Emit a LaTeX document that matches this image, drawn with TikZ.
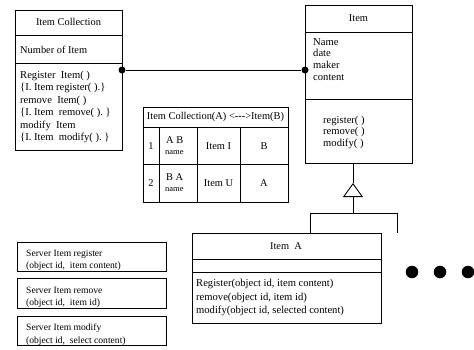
\documentclass[tikz,border=0pt]{standalone}
\usepackage{fontspec}
\setmainfont{Liberation Serif}
\usetikzlibrary{arrows.meta}

\begin{document}
\begin{tikzpicture}[x=1pt, y=-1pt,
  box/.style={draw, line width=0.9pt, inner sep=0pt, anchor=north west},
  rule/.style={line width=0.9pt},
  lbl/.style={inner sep=0pt, font=\fontsize{10.4}{12}\selectfont},
  lines/.style={lbl, anchor=north west, align=left, font=\fontsize{10.6}{12.4}\selectfont},
  small/.style={inner sep=0pt, font=\fontsize{8.5}{9}\selectfont},
  srvtext/.style={lines, font=\fontsize{9.6}{12.2}\selectfont},
  assoc/.style={line width=0.9pt},
  enddot/.style={circle, fill, inner sep=0pt, minimum size=7pt},
  bigdot/.style={circle, fill, inner sep=0pt, minimum size=12.5pt},
  gen/.style={line width=0.9pt, -{Triangle[open, length=14pt, width=20pt, line width=0.9pt]}}
]
\useasboundingbox (0,0) rectangle (474,349);
\fill[white] (0,0) rectangle (474,349);

% ---- class Item Collection ----
\node[box, minimum width=107pt, minimum height=140pt] (coll) at (15,10) {};
\draw[rule] (15,35) -- (122,35);
\draw[rule] (15,63) -- (122,63);
\node[lbl] (collname) at (68.5,22) {Item Collection};
\node[lbl, anchor=west] (collattr) at (20,50) {Number of Item};
\node[lines] (collops) at (20,71) {Register\ \ Item(\ )\\
\{I. Item register(\ ).\}\\
remove\ \ Item(\ )\\
\{I. Item\ \ remove(\ ).\ \}\\
modify\ \ Item\\
\{I. Item\ \ modify(\ ).\ \}};

% ---- class Item ----
\node[box, minimum width=107pt, minimum height=158pt] (item) at (305,5) {};
\draw[rule] (305,32) -- (412,32);
\draw[rule] (305,99) -- (412,99);
\node[lbl] (itemname) at (358.5,18) {Item};
\node[lines, font=\fontsize{10.6}{11.8}\selectfont] (itemattr) at (313,38) {Name\\ date\\ maker\\ content};
\node[lines, font=\fontsize{10.6}{11.3}\selectfont] (itemops) at (323,116) {register(\ )\\ remove(\ )\\ modify(\ )};

% ---- association between the two classes ----
\node[enddot] (ea) at (122,70) {};
\node[enddot] (eb) at (305,70) {};
\draw[assoc] (ea) -- (eb);

% ---- mapping table ----
\node[box, minimum width=145pt, minimum height=95pt] (tab) at (143,107) {};
\draw[rule] (143,127) -- (288,127);
\draw[rule] (143,164) -- (288,164);
\draw[rule] (159,127) -- (159,202);
\draw[rule] (197,127) -- (197,202);
\draw[rule] (240,127) -- (240,202);
\node[lbl] (tabhead) at (215.5,117) {Item Collection(A) <-{}-{}->Item(B)};
\node[lbl] (r1n) at (151,146) {1};
\node[lbl, anchor=west] (r1a) at (166,140) {A B};
\node[small, anchor=west] (r1b) at (165,153) {name};
\node[lbl] (r1c) at (218.5,146) {Item I};
\node[lbl] (r1d) at (264,146) {B};
\node[lbl] (r2n) at (151,183) {2};
\node[lbl, anchor=west] (r2a) at (166,177) {B A};
\node[small, anchor=west] (r2b) at (165,190) {name};
\node[lbl] (r2c) at (218.5,183) {Item U};
\node[lbl] (r2d) at (264,183) {A};

% ---- server operations ----
\node[box, minimum width=149pt, minimum height=29pt] (srv1) at (17,242) {};
\node[srvtext] (srv1t) at (26,250) {Server Item register\\ (object id,\ \ item content)};
\node[box, minimum width=149pt, minimum height=30pt] (srv2) at (17,278) {};
\node[srvtext] (srv2t) at (26,287) {Server Item remove\\ (object id,\ \ item id)};
\node[box, minimum width=149pt, minimum height=29pt] (srv3) at (17,316) {};
\node[srvtext] (srv3t) at (26,324) {Server Item modify\\ (object id,\ \ select content)};

% ---- class Item A ----
\node[box, minimum width=189pt, minimum height=90pt] (itema) at (192,233) {};
\draw[rule] (192,259) -- (381,259);
\draw[rule] (192,272) -- (381,272);
\node[lbl] (itemaname) at (286,246) {Item\ \ A};
\node[lines, font=\fontsize{10.6}{13.6}\selectfont] (itemaops) at (196,279) {Register(object id, item content)\\
remove(object id, item id)\\
modify(object id, selected content)};

% ---- generalisation ----
\coordinate (tip) at (353,183);
\coordinate (tee) at (353,213);
\coordinate (fork) at (310,213);
\coordinate (forkr) at (397,213);
\coordinate (other) at (397,233);
\draw[rule] (item.south -| tip) -- (tip);
\draw[gen] (tee) -- (tip);
\draw[rule] (fork) -- (forkr);
\draw[rule] (fork) -- (fork |- itema.north);
\draw[rule] (forkr) -- (other);

% ---- further subclasses ----
\node[bigdot] (d1) at (412,272) {};
\node[bigdot] (d2) at (440,272) {};
\node[bigdot] (d3) at (468,272) {};
\end{tikzpicture}
\end{document}
